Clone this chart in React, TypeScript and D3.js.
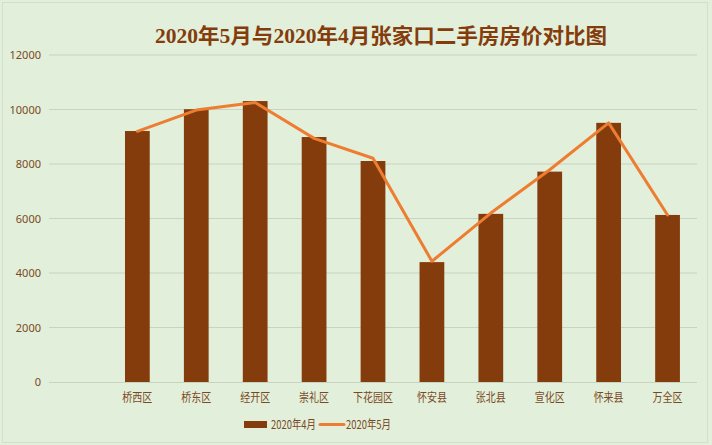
import React from "react";
import * as d3 from "d3";

const categories = ["", "桥西区", "桥东区", "经开区", "崇礼区", "下花园区", "怀安县", "张北县", "宣化区", "怀来县", "万全区"];
const april = [null, 9210, 10010, 10310, 8990, 8110, 4400, 6170, 7720, 9510, 6130];
const may = [null, 9200, 9980, 10260, 8940, 8210, 4430, 6200, 7790, 9510, 6130];
const yTicks = [0, 2000, 4000, 6000, 8000, 10000, 12000];
const title = "2020年5月与2020年4月张家口二手房房价对比图";
const seriesNames = ["2020年4月", "2020年5月"];

const W = 712, H = 445;
const M = { left: 49, right: 697, top: 55, bottom: 382 };

export default function App() {
  const x = d3.scaleBand<string>().domain(categories.map((c, i) => String(i))).range([M.left, M.right]).paddingInner(0.58).paddingOuter(0.29);
  const y = d3.scaleLinear().domain([0, 12000]).range([M.bottom, M.top]);
  const cx = (i: number) => (x(String(i)) as number) + x.bandwidth() / 2;
  const linePts: [number, number][] = [];
  may.forEach((v, i) => { if (v != null) linePts.push([cx(i), y(v)]); });
  const line = d3.line();
  const textColor = "#7a4a1e";
  return (
    <svg width={W} height={H} style={{ position: "absolute", left: 0, top: 0 }}>
      <rect x={0} y={0} width={W} height={H} fill="#e2efda" />
      <rect x={2.5} y={2.5} width={W - 7} height={H - 5} fill="none" stroke="#d3dfcb" strokeWidth={1} />
      <text x={381} y={43} textAnchor="middle" textLength={452} lengthAdjust="spacingAndGlyphs" fontFamily="'Liberation Serif','Noto Sans CJK SC',serif" fontWeight="bold" fontSize={21} fill="#843c0c">{title}</text>
      {yTicks.map(t => (
        <g key={t}>
          {t !== 0 && <line x1={M.left} x2={M.right} y1={y(t)} y2={y(t)} stroke="#c8d3c0" strokeWidth={1} />}
          <text x={41} y={y(t) + 4} textAnchor="end" fontFamily="'Noto Sans','DejaVu Sans',sans-serif" fontSize={11} fill={textColor}>{t}</text>
        </g>
      ))}
      {april.map((v, i) => v == null ? null : (
        <rect key={i} x={x(String(i))} y={y(v)} width={x.bandwidth()} height={y(0) - y(v)} fill="#843c0c" />
      ))}
      <line x1={M.left} x2={M.right} y1={y(0) + 0.5} y2={y(0) + 0.5} stroke="#c8d3c0" strokeWidth={1} />
      <path d={line(linePts) as string} fill="none" stroke="#ed7d31" strokeWidth={3} strokeLinejoin="round" strokeLinecap="round" />
      {categories.map((c, i) => c === "" ? null : (
        <text key={i} x={cx(i)} y={402} textAnchor="middle" textLength={c.length * 10} lengthAdjust="spacingAndGlyphs" fontFamily="'Noto Sans CJK SC',sans-serif" fontSize={12} fill={textColor}>{c}</text>
      ))}
      <rect x={244} y={421} width={23} height={7} fill="#843c0c" />
      <text x={271} y={429} textLength={45} lengthAdjust="spacingAndGlyphs" fontFamily="'Noto Sans CJK SC',sans-serif" fontSize={12} fill={textColor}>{seriesNames[0]}</text>
      <line x1={320} x2={344} y1={424.5} y2={424.5} stroke="#ed7d31" strokeWidth={3} strokeLinecap="round" />
      <text x={346} y={429} textLength={45} lengthAdjust="spacingAndGlyphs" fontFamily="'Noto Sans CJK SC',sans-serif" fontSize={12} fill={textColor}>{seriesNames[1]}</text>
    </svg>
  );
}
